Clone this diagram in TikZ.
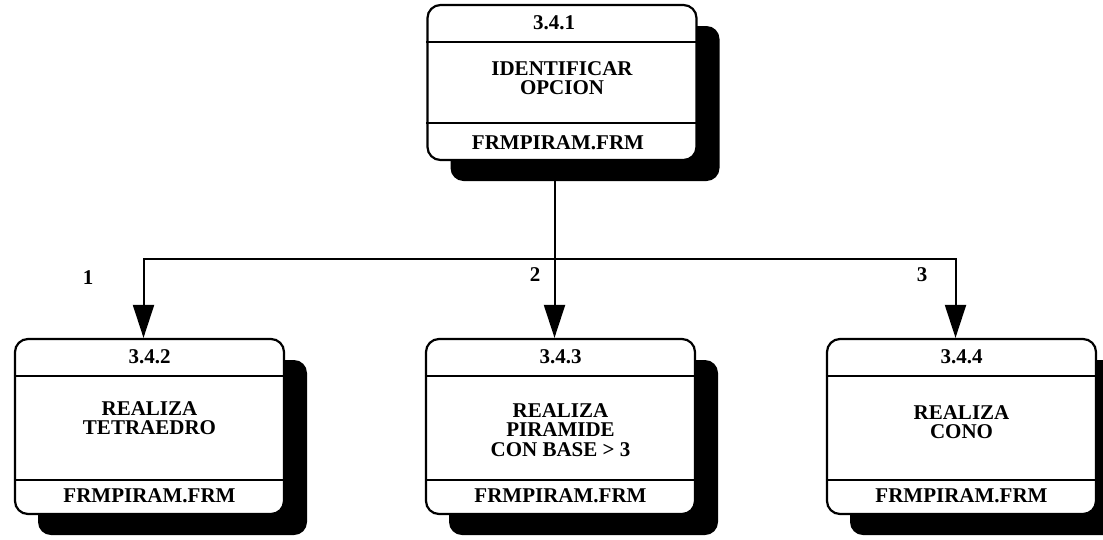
\documentclass[tikz,border=0pt]{standalone}
\usepackage{fontspec}
\setmainfont{Liberation Serif}
\usetikzlibrary{arrows.meta,positioning,calc,shadows}

\tikzset{
  procbox/.style={draw,line width=2.2pt,rounded corners=13pt,fill=white,
    minimum width=269pt,inner sep=0pt,
    drop shadow={shadow xshift=23pt,shadow yshift=-21pt,opacity=1,fill=black}},
  divider/.style={line width=1.9pt},
  flow/.style={line width=2pt,-{Triangle[length=33pt,width=21pt]}},
  boxtext/.style={align=center,inner sep=0pt},
}

\begin{document}
\begin{tikzpicture}[x=1pt,y=-1pt,font=\bfseries\fontsize{21}{19.5}\selectfont]
  \useasboundingbox (0,0) rectangle (1103,539);
  % top process, one band for the number, one for the text, one for the form
  \node[procbox,minimum height=155pt] (p1) at (562,82.5) {};
  \draw[divider] ($(p1.north west)+(0,38)$) -- ($(p1.north east)+(0,38)$);
  \draw[divider] ($(p1.south west)+(0,-38)$) -- ($(p1.south east)+(0,-38)$);
  \node[boxtext] (p1num) at ($(p1.north)+(-8,19)$) {3.4.1};
  \node[boxtext] (p1txt) at ($(p1.center)+(0,-4.5)$) {IDENTIFICAR\\OPCION};
  \node[boxtext] (p1frm) at ($(p1.south)+(-4,-18)$) {FRMPIRAM.FRM};

  % the three options hang from one bus line
  \coordinate (bus) at (555,259);
  \draw[line width=2pt] (p1.south -| bus) -- (bus);
  \foreach \n/\cx/\ty/\txt/\lx/\ly in {%
      2/149.5/418/{REALIZA\\TETRAEDRO}/88/278,
      3/560.5/430/{REALIZA\\PIRAMIDE\\CON BASE > 3}/535/275,
      4/961.5/422/{REALIZA\\CONO}/922/275} {
    \node[procbox,minimum height=175pt] (b\n) at (\cx,426.5) {};
    \draw[divider] ($(b\n.north west)+(0,38)$) -- ($(b\n.north east)+(0,38)$);
    \draw[divider] ($(b\n.south west)+(0,-35)$) -- ($(b\n.south east)+(0,-35)$);
    \node[boxtext] (b\n num) at ($(b\n.north)+(0,19)$) {3.4.\n};
    \node[boxtext] (b\n txt) at (\cx,\ty) {\txt};
    \node[boxtext] (b\n frm) at ($(b\n.south)+(0,-19)$) {FRMPIRAM.FRM};
    \pgfmathtruncatemacro{\opt}{\n-1}
    \node[boxtext] (opt\n) at (\lx,\ly) {\opt};
    \draw[flow] (bus) -| ($(b\n.north)+(-6,0)$);
  }
\end{tikzpicture}
\end{document}
